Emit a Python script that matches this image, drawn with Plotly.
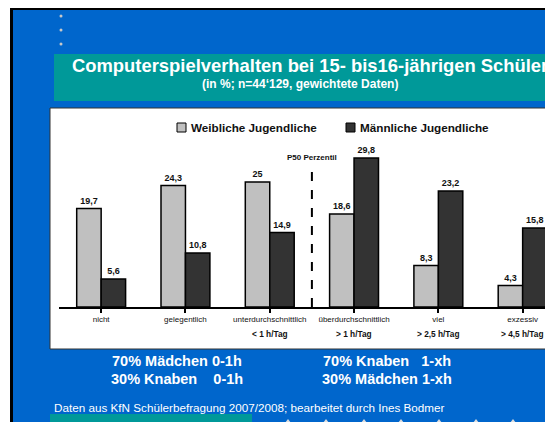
import plotly.graph_objects as go

categories = ["nicht", "gelegentlich", "unterdurchschnittlich", "überdurchschnittlich", "viel", "exzessiv"]
sublabels = ["", "", "< 1 h/Tag", "> 1 h/Tag", "> 2,5 h/Tag", "> 4,5 h/Tag"]
weiblich = [19.7, 24.3, 25.0, 18.6, 8.3, 4.3]
maennlich = [5.6, 10.8, 14.9, 29.8, 23.2, 15.8]
series_names = ["Weibliche Jugendliche", "Männliche Jugendliche"]
series_colors = ["#C0C0C0", "#333333"]

# page offset (body margin) in screen pixels
OFF = 8
W, H = 553, 422
# plot area in screen coordinates: x from 59, baseline at y=307, 5 px per unit
ML = 59 - OFF
MR = 0
MB = H - (307 - OFF)
PH = 160
MT = H - MB - PH
PW = W - ML - MR
CAT_PX = 84.3
FONT = "Arial, Liberation Sans, sans-serif"


def px(x):
    """screen x -> paper x"""
    return (x - OFF - ML) / PW


def py(y):
    """screen y -> paper y"""
    return (H - MB - (y - OFF)) / PH


def fmt(v):
    return f"{v:g}".replace(".", ",")


idx = list(range(len(categories)))
fig = go.Figure()
for vals, name, col in zip([weiblich, maennlich], series_names, series_colors):
    fig.add_trace(go.Bar(
        x=idx, y=vals, name=name, showlegend=False,
        marker=dict(color=col, line=dict(color="#000000", width=1.5)),
        text=[fmt(v) for v in vals], textposition="outside", cliponaxis=False,
        textfont=dict(family=FONT, size=9, color="#111", weight="bold"),
    ))

shapes = []
# slide background
shapes.append(dict(type="rect", xref="paper", yref="paper", x0=px(11.5), x1=px(600), y0=py(8.5), y1=py(460),
                   fillcolor="#0066CC", line=dict(color="#000000", width=3), layer="below"))
shapes.append(dict(type="line", xref="paper", yref="paper", x0=px(9), x1=px(600), y0=py(6.5), y1=py(6.5),
                   line=dict(color="#B0B0B0", width=1), layer="below"))
# title band
shapes.append(dict(type="rect", xref="paper", yref="paper", x0=px(54), x1=px(600), y0=py(54), y1=py(101),
                   fillcolor="#009999", line=dict(width=0), layer="below"))
# chart box
shapes.append(dict(type="rect", xref="paper", yref="paper", x0=px(50), x1=px(600), y0=py(108), y1=py(349),
                   fillcolor="#FFFFFF", line=dict(color="#333333", width=1), layer="below"))
# bottom teal bar
shapes.append(dict(type="rect", xref="paper", yref="paper", x0=px(50), x1=px(252), y0=py(414), y1=py(440),
                   fillcolor="#009999", line=dict(width=0), layer="below"))
# small marks at bottom
for mx in [288, 326, 364, 401, 439, 476, 513, 550]:
    shapes.append(dict(type="path", xref="paper", yref="paper",
                       path=f"M {px(mx-3)} {py(423)} L {px(mx)} {py(419)} L {px(mx+3)} {py(423)} Z",
                       fillcolor="#DDDDDD", line=dict(width=0), layer="below"))
# bullets
for by in [16, 30, 44]:
    shapes.append(dict(type="circle", xref="paper", yref="paper", x0=px(59.5), x1=px(62.5), y0=py(by - 1.5), y1=py(by + 1.5),
                       fillcolor="#C8C8C8", line=dict(width=0), layer="below"))
# legend squares
for sx, col in zip([177, 346], series_colors):
    shapes.append(dict(type="rect", xref="paper", yref="paper", x0=px(sx), x1=px(sx + 9), y0=py(123), y1=py(132),
                       fillcolor=col, line=dict(color="#000000", width=1)))
# P50 dashed line
shapes.append(dict(type="line", xref="x", yref="y", x0=2.5, x1=2.5, y0=0, y1=27.8,
                   line=dict(color="#000000", width=2, dash="dash")))


def ann(text, x, y, size, color="white", xanchor="left", xref="paper"):
    return dict(text=text, x=x, y=y, xref=xref, yref="paper", xanchor=xanchor, yanchor="middle",
                showarrow=False, font=dict(family=FONT, size=size, color=color))


annotations = [
    ann("<b>Computerspielverhalten bei 15- bis16-jährigen Schüler</b>", px(70), py(66), 18.4),
    ann("<b>(in %; n=44‘129, gewichtete Daten)</b>", px(300), py(84), 12, xanchor="center"),
    ann("<b>P50 Perzentil</b>", 2.5, py(157), 8, color="#111", xanchor="center", xref="x"),
    ann("<b>70% Mädchen 0-1h</b>", px(110), py(361), 14.5),
    ann("<b>30% Knaben\u00a0\u00a0\u00a0\u00a00-1h</b>", px(109), py(379), 14.5),
    ann("<b>70% Knaben\u00a0\u00a0\u00a01-xh</b>", px(321), py(361), 14.5),
    ann("<b>30% Mädchen 1-xh</b>", px(320), py(379), 14.5),
    ann("Daten aus KfN Schülerbefragung 2007/2008; bearbeitet durch Ines Bodmer", px(52), py(407), 11.7),
    ann(f"<b>{series_names[0]}</b>", px(189), py(127.5), 11.7, color="#111"),
    ann(f"<b>{series_names[1]}</b>", px(358), py(127.5), 11.7, color="#111"),
]
for i, lab in zip(idx, sublabels):
    if lab:
        annotations.append(ann(f"<b>{lab}</b>", i, py(334), 8.3, color="#111", xanchor="center", xref="x"))

fig.update_layout(
    width=W, height=H,
    margin=dict(l=ML, r=MR, t=MT, b=MB),
    paper_bgcolor="white", plot_bgcolor="rgba(0,0,0,0)",
    barmode="group", bargap=0.42, bargroupgap=0,
    showlegend=False,
    shapes=shapes, annotations=annotations,
    font=dict(family=FONT),
)
fig.update_xaxes(range=[-0.5, -0.5 + PW / CAT_PX], tickmode="array", tickvals=idx, ticktext=categories,
                 showline=True, linecolor="#000000", linewidth=1.5, ticks="outside", tickson="boundaries",
                 ticklen=4, tickcolor="#000000", tickwidth=1.5, showgrid=False, zeroline=False,
                 tickfont=dict(family=FONT, size=8, color="#111"), fixedrange=True)
fig.update_yaxes(range=[0, PH / 5], visible=False, showgrid=False, zeroline=False, fixedrange=True)

fig.write_html("out.html")
